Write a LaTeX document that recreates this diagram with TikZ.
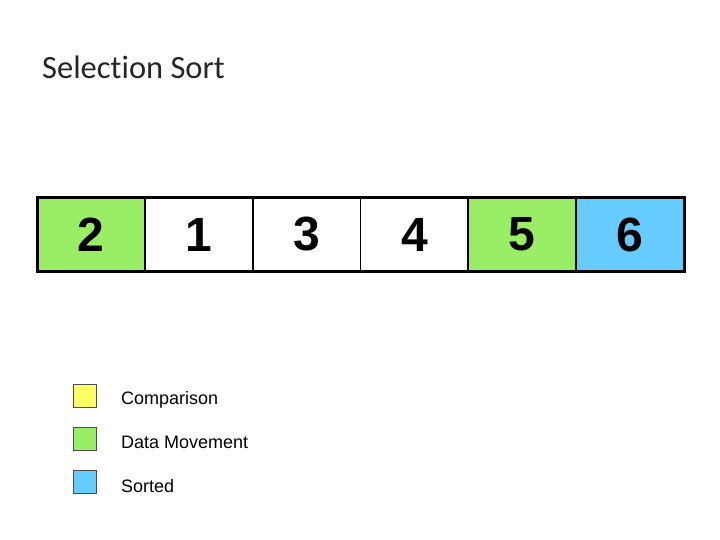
\documentclass[tikz,border=0pt]{standalone}
\usepackage{fontspec}
\setmainfont{Liberation Sans}
\newfontfamily\titlefont[Ligatures=NoCommon]{Carlito}
\definecolor{mvgreen}{RGB}{153,238,102}
\definecolor{srtblue}{RGB}{102,204,255}
\definecolor{cmpyellow}{RGB}{255,255,102}
\tikzset{
  cell/.style={draw=black, line width=1.5pt, minimum width=108pt, minimum height=73pt, inner sep=0pt, outer sep=0pt, font=\fontsize{48}{50}\selectfont\bfseries},
  legbox/.style={draw=black!70, line width=0.6pt, minimum width=23pt, minimum height=23pt, inner sep=0pt},
  legtext/.style={anchor=west, font=\fontsize{18}{20}\selectfont, inner sep=0pt}
}
\begin{document}
\begin{tikzpicture}[x=1pt,y=-1pt]
\useasboundingbox (0,0) rectangle (720,540);
\node[anchor=west, font=\titlefont\fontsize{32.5}{36}\selectfont, inner sep=0pt, text=black!85] (title) at (42,67) {Selection Sort};
\node[cell, fill=mvgreen] (c1) at (91,234.5) {2};
\node[cell, fill=white] (c2) at (199,234.5) {1};
\node[cell, fill=white] (c3) at (307,234.5) {3};
\node[cell, fill=white] (c4) at (414.5,234.5) {4};
\node[cell, fill=mvgreen] (c5) at (522,234.5) {5};
\node[cell, fill=srtblue] (c6) at (630,234.5) {6};
\draw[line width=3pt] (c1.north west) rectangle (c6.south east);
\node[legbox, fill=cmpyellow] (l1) at (84.5,396) {};
\node[legbox, fill=mvgreen] (l2) at (84.5,439) {};
\node[legbox, fill=srtblue] (l3) at (84.5,482) {};
\node[legtext] (t1) at (121,400) {Comparison};
\node[legtext] (t2) at (121,442.5) {Data Movement};
\node[legtext] (t3) at (121,486.5) {Sorted};
\end{tikzpicture}
\end{document}
